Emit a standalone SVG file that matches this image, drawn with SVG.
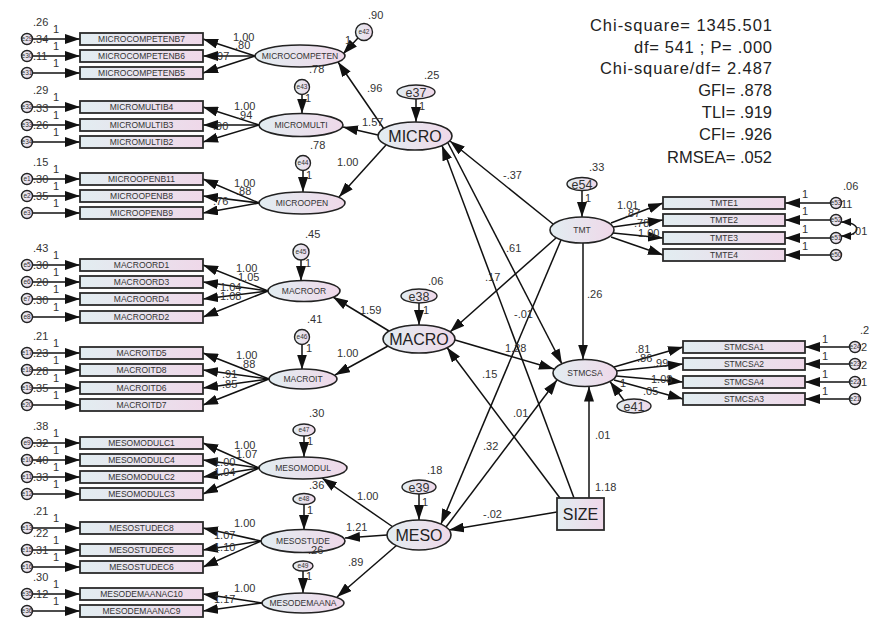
<svg xmlns="http://www.w3.org/2000/svg" width="869" height="623" viewBox="0 0 869 623">
<defs>
  <linearGradient id="g" x1="0" y1="0" x2="1" y2="0">
    <stop offset="0" stop-color="#e2edf1"/>
    <stop offset="1" stop-color="#efd8e9"/>
  </linearGradient>
  <marker id="ah" markerUnits="userSpaceOnUse" markerWidth="15" markerHeight="10" refX="15" refY="5" orient="auto">
    <path d="M0,0 L15,5 L0,10 z" fill="#111"/>
  </marker>
  <marker id="ahs" markerUnits="userSpaceOnUse" markerWidth="10" markerHeight="8" refX="10" refY="4" orient="auto-start-reverse">
    <path d="M0,0 L10,4 L0,8 z" fill="#111"/>
  </marker>
  <style>
    .box{fill:url(#g);stroke:#2b2b2b;stroke-width:1.8}
    .lat{fill:url(#g);stroke:#222;stroke-width:1.6}
    .err{fill:url(#g);stroke:#222;stroke-width:1.4}
    .a{stroke:#111;stroke-width:1.5;fill:none;marker-end:url(#ah)}
    .cov{stroke:#111;stroke-width:1.5;fill:none;marker-start:url(#ahs);marker-end:url(#ahs)}
    text{font-family:"Liberation Sans",Arial,sans-serif;fill:#333}
    .bt{font-size:8.5px;text-anchor:middle}
    .et{font-size:6.5px;text-anchor:middle}
    .e2{font-size:12.5px;text-anchor:middle}
    .big{font-size:16px;text-anchor:middle;fill:#222}
    .n{font-size:11px}
    .fit{font-size:16.5px;text-anchor:end;fill:#222}
  </style>
</defs>
<rect width="869" height="623" fill="#fff"/>

<!-- fit statistics -->
<g id="fit">
  <text class="fit" x="772" y="31" textLength="182" lengthAdjust="spacing">Chi-square= 1345.501</text>
  <text class="fit" x="772" y="53" textLength="138" lengthAdjust="spacing">df= 541 ; P= .000</text>
  <text class="fit" x="772" y="74" textLength="172" lengthAdjust="spacing">Chi-square/df= 2.487</text>
  <text class="fit" x="772" y="96">GFI= .878</text>
  <text class="fit" x="772" y="118">TLI= .919</text>
  <text class="fit" x="772" y="140">CFI= .926</text>
  <text class="fit" x="772" y="163">RMSEA= .052</text>
</g>

<!-- connectors -->
<g id="connectors">
  <!-- left error terms to indicators -->
  <line class="a" x1="32.5" y1="39" x2="80" y2="39"/>
  <line class="a" x1="32.5" y1="56" x2="80" y2="56"/>
  <line class="a" x1="32.5" y1="73" x2="80" y2="73"/>
  <line class="a" x1="32.5" y1="107" x2="80" y2="107"/>
  <line class="a" x1="32.5" y1="125" x2="80" y2="125"/>
  <line class="a" x1="32.5" y1="142" x2="80" y2="142"/>
  <line class="a" x1="32.5" y1="179" x2="80" y2="179"/>
  <line class="a" x1="32.5" y1="196" x2="80" y2="196"/>
  <line class="a" x1="32.5" y1="213" x2="80" y2="213"/>
  <line class="a" x1="32.5" y1="265" x2="80" y2="265"/>
  <line class="a" x1="32.5" y1="282" x2="80" y2="282"/>
  <line class="a" x1="32.5" y1="299" x2="80" y2="299"/>
  <line class="a" x1="32.5" y1="317" x2="80" y2="317"/>
  <line class="a" x1="32.5" y1="353" x2="80" y2="353"/>
  <line class="a" x1="32.5" y1="370" x2="80" y2="370"/>
  <line class="a" x1="32.5" y1="388" x2="80" y2="388"/>
  <line class="a" x1="32.5" y1="405" x2="80" y2="405"/>
  <line class="a" x1="32.5" y1="443" x2="80" y2="443"/>
  <line class="a" x1="32.5" y1="460" x2="80" y2="460"/>
  <line class="a" x1="32.5" y1="477" x2="80" y2="477"/>
  <line class="a" x1="32.5" y1="494" x2="80" y2="494"/>
  <line class="a" x1="32.5" y1="528" x2="80" y2="528"/>
  <line class="a" x1="32.5" y1="550" x2="80" y2="550"/>
  <line class="a" x1="32.5" y1="567" x2="80" y2="567"/>
  <line class="a" x1="32.5" y1="594" x2="80" y2="594"/>
  <line class="a" x1="32.5" y1="611" x2="80" y2="611"/>

  <!-- loadings of first-order factors -->
  <line class="a" x1="255" y1="56" x2="203" y2="39"/>
  <line class="a" x1="255" y1="56" x2="203" y2="56"/>
  <line class="a" x1="255" y1="56" x2="203" y2="73"/>
  <line class="a" x1="259" y1="125" x2="203" y2="107"/>
  <line class="a" x1="259" y1="125" x2="203" y2="125"/>
  <line class="a" x1="259" y1="125" x2="203" y2="142"/>
  <line class="a" x1="259" y1="203" x2="203" y2="179"/>
  <line class="a" x1="259" y1="203" x2="203" y2="196"/>
  <line class="a" x1="259" y1="203" x2="203" y2="213"/>
  <line class="a" x1="268" y1="291" x2="203" y2="265"/>
  <line class="a" x1="268" y1="291" x2="203" y2="282"/>
  <line class="a" x1="268" y1="291" x2="203" y2="299"/>
  <line class="a" x1="268" y1="291" x2="203" y2="317"/>
  <line class="a" x1="269" y1="379" x2="203" y2="353"/>
  <line class="a" x1="269" y1="379" x2="203" y2="370"/>
  <line class="a" x1="269" y1="379" x2="203" y2="388"/>
  <line class="a" x1="269" y1="379" x2="203" y2="405"/>
  <line class="a" x1="259" y1="468" x2="203" y2="443"/>
  <line class="a" x1="259" y1="468" x2="203" y2="460"/>
  <line class="a" x1="259" y1="468" x2="203" y2="477"/>
  <line class="a" x1="259" y1="468" x2="203" y2="494"/>
  <line class="a" x1="261" y1="541" x2="203" y2="528"/>
  <line class="a" x1="261" y1="541" x2="203" y2="550"/>
  <line class="a" x1="261" y1="541" x2="203" y2="567"/>
  <line class="a" x1="262" y1="603" x2="203" y2="594"/>
  <line class="a" x1="262" y1="603" x2="203" y2="611"/>

  <!-- disturbances of first-order factors -->
  <line class="a" x1="358" y1="38" x2="343" y2="54"/>
  <line class="a" x1="302" y1="94.5" x2="302" y2="113.5"/>
  <line class="a" x1="303" y1="170.5" x2="303" y2="192"/>
  <line class="a" x1="301" y1="260" x2="301" y2="281"/>
  <line class="a" x1="302" y1="344.5" x2="302" y2="369.5"/>
  <line class="a" x1="304" y1="436" x2="304" y2="457"/>
  <line class="a" x1="304" y1="504.5" x2="304" y2="530"/>
  <line class="a" x1="303" y1="571" x2="303" y2="593"/>

  <!-- second-order factors to first-order factors -->
  <line class="a" x1="384" y1="129" x2="338" y2="62"/>
  <line class="a" x1="378" y1="135" x2="343" y2="127"/>
  <line class="a" x1="386" y1="145" x2="339" y2="197"/>
  <line class="a" x1="389" y1="331" x2="333" y2="297"/>
  <line class="a" x1="388" y1="346" x2="335" y2="375"/>
  <line class="a" x1="393" y1="527" x2="322" y2="478"/>
  <line class="a" x1="387" y1="535" x2="345" y2="538"/>
  <line class="a" x1="397" y1="545" x2="337" y2="597"/>

  <!-- disturbances of structural factors -->
  <line class="a" x1="416" y1="99" x2="416" y2="122"/>
  <line class="a" x1="419" y1="303" x2="419" y2="325"/>
  <line class="a" x1="419" y1="494" x2="419" y2="520"/>
  <line class="a" x1="582" y1="190.5" x2="582" y2="217"/>
  <line class="a" x1="624" y1="400.5" x2="610" y2="381.5"/>

  <!-- structural paths -->
  <line class="a" x1="553" y1="224" x2="450" y2="141"/>
  <line class="a" x1="556" y1="238" x2="450" y2="332"/>
  <line class="a" x1="561" y1="240" x2="441" y2="524"/>
  <line class="a" x1="583" y1="243" x2="583" y2="359.5"/>
  <line class="a" x1="448" y1="143" x2="562" y2="364"/>
  <line class="a" x1="574" y1="498" x2="442" y2="145.5"/>
  <line class="a" x1="560" y1="498" x2="447" y2="347.5"/>
  <line class="a" x1="455" y1="340" x2="554" y2="369"/>
  <line class="a" x1="446" y1="527" x2="557" y2="380"/>
  <line class="a" x1="557" y1="512" x2="449" y2="530"/>
  <line class="a" x1="589" y1="498" x2="589" y2="386.5"/>

  <!-- TMT indicators -->
  <line class="a" x1="611" y1="223" x2="663" y2="203"/>
  <line class="a" x1="613" y1="227" x2="663" y2="220"/>
  <line class="a" x1="613" y1="233" x2="663" y2="238"/>
  <line class="a" x1="611" y1="237" x2="663" y2="255"/>
  <line class="a" x1="830.5" y1="203" x2="785" y2="203"/>
  <line class="a" x1="830.5" y1="220" x2="785" y2="220"/>
  <line class="a" x1="830.5" y1="238" x2="785" y2="238"/>
  <line class="a" x1="830.5" y1="255" x2="785" y2="255"/>
  <path class="cov" d="M841,222 C862,222 862,236 841,236"/>

  <!-- STMCSA indicators -->
  <line class="a" x1="614" y1="367" x2="683" y2="347"/>
  <line class="a" x1="616" y1="371" x2="683" y2="364"/>
  <line class="a" x1="616" y1="376" x2="683" y2="382"/>
  <line class="a" x1="614" y1="380" x2="683" y2="399"/>
  <line class="a" x1="849.5" y1="347" x2="805" y2="347"/>
  <line class="a" x1="849.5" y1="364" x2="805" y2="364"/>
  <line class="a" x1="849.5" y1="382" x2="805" y2="382"/>
  <line class="a" x1="849.5" y1="399" x2="805" y2="399"/>
</g>

<!-- path labels -->
<g id="path-labels" class="n">
  <text class="n" x="233" y="41">1.00</text>
  <text class="n" x="235" y="49">.80</text>
  <text class="n" x="214" y="60">.97</text>
  <text class="n" x="234" y="110">1.00</text>
  <text class="n" x="237" y="119">.94</text>
  <text class="n" x="213" y="130">.90</text>
  <text class="n" x="234" y="187">1.00</text>
  <text class="n" x="236" y="195">.88</text>
  <text class="n" x="213" y="205">.76</text>
  <text class="n" x="236" y="272">1.00</text>
  <text class="n" x="238" y="281">1.05</text>
  <text class="n" x="220" y="291">1.04</text>
  <text class="n" x="220" y="300">1.08</text>
  <text class="n" x="236" y="359">1.00</text>
  <text class="n" x="240" y="368">.88</text>
  <text class="n" x="222" y="378">.91</text>
  <text class="n" x="222" y="388">.85</text>
  <text class="n" x="234" y="449">1.00</text>
  <text class="n" x="236" y="458">1.07</text>
  <text class="n" x="214" y="466">1.00</text>
  <text class="n" x="214" y="476">1.04</text>
  <text class="n" x="234" y="527">1.00</text>
  <text class="n" x="214" y="539">1.07</text>
  <text class="n" x="214" y="551">1.10</text>
  <text class="n" x="234" y="592">1.00</text>
  <text class="n" x="214" y="603">1.17</text>

  <text class="n" x="367" y="92">.96</text>
  <text class="n" x="362" y="126">1.57</text>
  <text class="n" x="337" y="166">1.00</text>
  <text class="n" x="360" y="314">1.59</text>
  <text class="n" x="337" y="357">1.00</text>
  <text class="n" x="357" y="500">1.00</text>
  <text class="n" x="346" y="531">1.21</text>
  <text class="n" x="348" y="566">.89</text>

  <text class="n" x="503" y="179">-.37</text>
  <text class="n" x="506" y="252">.61</text>
  <text class="n" x="485" y="281">.17</text>
  <text class="n" x="587" y="298">.26</text>
  <text class="n" x="514" y="318">-.01</text>
  <text class="n" x="505" y="352">1.28</text>
  <text class="n" x="482" y="378">.15</text>
  <text class="n" x="513" y="417">.01</text>
  <text class="n" x="483" y="450">.32</text>
  <text class="n" x="483" y="518">-.02</text>
  <text class="n" x="595" y="439">.01</text>

  <text class="n" x="617" y="209">1.01</text>
  <text class="n" x="625" y="217">.87</text>
  <text class="n" x="634" y="227">.78</text>
  <text class="n" x="638" y="237">1.00</text>
  <text class="n" x="635" y="353">.81</text>
  <text class="n" x="637" y="362">.86</text>
  <text class="n" x="653" y="367">.99</text>
  <text class="n" x="651" y="383">1.08</text>
  <text class="n" x="643" y="395">.05</text>
  <text class="n" x="852" y="235">.01</text>
</g>

<!-- left indicators -->
<g id="MICROCOMPETENB7"><rect class="box" x="80" y="33" width="123" height="12"/><text class="bt" x="141.5" y="42">MICROCOMPETENB7</text></g>
<g id="MICROCOMPETENB6"><rect class="box" x="80" y="50" width="123" height="12"/><text class="bt" x="141.5" y="59">MICROCOMPETENB6</text></g>
<g id="MICROCOMPETENB5"><rect class="box" x="80" y="67" width="123" height="12"/><text class="bt" x="141.5" y="76">MICROCOMPETENB5</text></g>
<g id="MICROMULTIB4"><rect class="box" x="80" y="101" width="123" height="12"/><text class="bt" x="141.5" y="110">MICROMULTIB4</text></g>
<g id="MICROMULTIB3"><rect class="box" x="80" y="119" width="123" height="12"/><text class="bt" x="141.5" y="128">MICROMULTIB3</text></g>
<g id="MICROMULTIB2"><rect class="box" x="80" y="136" width="123" height="12"/><text class="bt" x="141.5" y="145">MICROMULTIB2</text></g>
<g id="MICROOPENB11"><rect class="box" x="80" y="173" width="123" height="12"/><text class="bt" x="141.5" y="182">MICROOPENB11</text></g>
<g id="MICROOPENB8"><rect class="box" x="80" y="190" width="123" height="12"/><text class="bt" x="141.5" y="199">MICROOPENB8</text></g>
<g id="MICROOPENB9"><rect class="box" x="80" y="207" width="123" height="12"/><text class="bt" x="141.5" y="216">MICROOPENB9</text></g>
<g id="MACROORD1"><rect class="box" x="80" y="259" width="123" height="12"/><text class="bt" x="141.5" y="268">MACROORD1</text></g>
<g id="MACROORD3"><rect class="box" x="80" y="276" width="123" height="12"/><text class="bt" x="141.5" y="285">MACROORD3</text></g>
<g id="MACROORD4"><rect class="box" x="80" y="293" width="123" height="12"/><text class="bt" x="141.5" y="302">MACROORD4</text></g>
<g id="MACROORD2"><rect class="box" x="80" y="311" width="123" height="12"/><text class="bt" x="141.5" y="320">MACROORD2</text></g>
<g id="MACROITD5"><rect class="box" x="80" y="347" width="123" height="12"/><text class="bt" x="141.5" y="356">MACROITD5</text></g>
<g id="MACROITD8"><rect class="box" x="80" y="364" width="123" height="12"/><text class="bt" x="141.5" y="373">MACROITD8</text></g>
<g id="MACROITD6"><rect class="box" x="80" y="382" width="123" height="12"/><text class="bt" x="141.5" y="391">MACROITD6</text></g>
<g id="MACROITD7"><rect class="box" x="80" y="399" width="123" height="12"/><text class="bt" x="141.5" y="408">MACROITD7</text></g>
<g id="MESOMODULC1"><rect class="box" x="80" y="437" width="123" height="12"/><text class="bt" x="141.5" y="446">MESOMODULC1</text></g>
<g id="MESOMODULC4"><rect class="box" x="80" y="454" width="123" height="12"/><text class="bt" x="141.5" y="463">MESOMODULC4</text></g>
<g id="MESOMODULC2"><rect class="box" x="80" y="471" width="123" height="12"/><text class="bt" x="141.5" y="480">MESOMODULC2</text></g>
<g id="MESOMODULC3"><rect class="box" x="80" y="488" width="123" height="12"/><text class="bt" x="141.5" y="497">MESOMODULC3</text></g>
<g id="MESOSTUDEC8"><rect class="box" x="80" y="522" width="123" height="12"/><text class="bt" x="141.5" y="531">MESOSTUDEC8</text></g>
<g id="MESOSTUDEC5"><rect class="box" x="80" y="544" width="123" height="12"/><text class="bt" x="141.5" y="553">MESOSTUDEC5</text></g>
<g id="MESOSTUDEC6"><rect class="box" x="80" y="561" width="123" height="12"/><text class="bt" x="141.5" y="570">MESOSTUDEC6</text></g>
<g id="MESODEMAANAC10"><rect class="box" x="80" y="588" width="123" height="12"/><text class="bt" x="141.5" y="597">MESODEMAANAC10</text></g>
<g id="MESODEMAANAC9"><rect class="box" x="80" y="605" width="123" height="12"/><text class="bt" x="141.5" y="614">MESODEMAANAC9</text></g>

<!-- left error terms: circle, name, variance, fixed weight -->
<g id="e29"><circle class="err" cx="27" cy="39" r="5.5"/><text class="et" x="27" y="41.3">e29</text><text class="n" x="33" y="26">.26</text><text class="n" x="53" y="33">1</text></g>
<g id="e30"><circle class="err" cx="27" cy="56" r="5.5"/><text class="et" x="27" y="58.3">e30</text><text class="n" x="33" y="43">.34</text><text class="n" x="53" y="50">1</text></g>
<g id="e31"><circle class="err" cx="27" cy="73" r="5.5"/><text class="et" x="27" y="75.3">e31</text><text class="n" x="33" y="60">.11</text><text class="n" x="53" y="67">1</text></g>
<g id="e32"><circle class="err" cx="27" cy="107" r="5.5"/><text class="et" x="27" y="109.3">e32</text><text class="n" x="33" y="94">.29</text><text class="n" x="53" y="101">1</text></g>
<g id="e33"><circle class="err" cx="27" cy="125" r="5.5"/><text class="et" x="27" y="127.3">e33</text><text class="n" x="33" y="112">.33</text><text class="n" x="53" y="119">1</text></g>
<g id="e34"><circle class="err" cx="27" cy="142" r="5.5"/><text class="et" x="27" y="144.3">e34</text><text class="n" x="33" y="129">.26</text><text class="n" x="53" y="136">1</text></g>
<g id="e1"><circle class="err" cx="27" cy="179" r="5.5"/><text class="et" x="27" y="181.3">e1</text><text class="n" x="33" y="166">.15</text><text class="n" x="53" y="173">1</text></g>
<g id="e2"><circle class="err" cx="27" cy="196" r="5.5"/><text class="et" x="27" y="198.3">e2</text><text class="n" x="33" y="183">.30</text><text class="n" x="53" y="190">1</text></g>
<g id="e3"><circle class="err" cx="27" cy="213" r="5.5"/><text class="et" x="27" y="215.3">e3</text><text class="n" x="33" y="200">.35</text><text class="n" x="53" y="207">1</text></g>
<g id="e5"><circle class="err" cx="27" cy="265" r="5.5"/><text class="et" x="27" y="267.3">e5</text><text class="n" x="33" y="252">.43</text><text class="n" x="53" y="259">1</text></g>
<g id="e6"><circle class="err" cx="27" cy="282" r="5.5"/><text class="et" x="27" y="284.3">e6</text><text class="n" x="33" y="269">.30</text><text class="n" x="53" y="276">1</text></g>
<g id="e7"><circle class="err" cx="27" cy="299" r="5.5"/><text class="et" x="27" y="301.3">e7</text><text class="n" x="33" y="286">.20</text><text class="n" x="53" y="293">1</text></g>
<g id="e8"><circle class="err" cx="27" cy="317" r="5.5"/><text class="et" x="27" y="319.3">e8</text><text class="n" x="33" y="304">.30</text><text class="n" x="53" y="311">1</text></g>
<g id="e17"><circle class="err" cx="27" cy="353" r="5.5"/><text class="et" x="27" y="355.3">e17</text><text class="n" x="33" y="340">.21</text><text class="n" x="53" y="347">1</text></g>
<g id="e18"><circle class="err" cx="27" cy="370" r="5.5"/><text class="et" x="27" y="372.3">e18</text><text class="n" x="33" y="357">.23</text><text class="n" x="53" y="364">1</text></g>
<g id="e19"><circle class="err" cx="27" cy="388" r="5.5"/><text class="et" x="27" y="390.3">e19</text><text class="n" x="33" y="375">.28</text><text class="n" x="53" y="382">1</text></g>
<g id="e20"><circle class="err" cx="27" cy="405" r="5.5"/><text class="et" x="27" y="407.3">e20</text><text class="n" x="33" y="392">.35</text><text class="n" x="53" y="399">1</text></g>
<g id="e9"><circle class="err" cx="27" cy="443" r="5.5"/><text class="et" x="27" y="445.3">e9</text><text class="n" x="33" y="430">.38</text><text class="n" x="53" y="437">1</text></g>
<g id="e10"><circle class="err" cx="27" cy="460" r="5.5"/><text class="et" x="27" y="462.3">e10</text><text class="n" x="33" y="447">.32</text><text class="n" x="53" y="454">1</text></g>
<g id="e11"><circle class="err" cx="27" cy="477" r="5.5"/><text class="et" x="27" y="479.3">e11</text><text class="n" x="33" y="464">.40</text><text class="n" x="53" y="471">1</text></g>
<g id="e12"><circle class="err" cx="27" cy="494" r="5.5"/><text class="et" x="27" y="496.3">e12</text><text class="n" x="33" y="481">.33</text><text class="n" x="53" y="488">1</text></g>
<g id="e13"><circle class="err" cx="27" cy="528" r="5.5"/><text class="et" x="27" y="530.3">e13</text><text class="n" x="33" y="515">.21</text><text class="n" x="53" y="522">1</text></g>
<g id="e15"><circle class="err" cx="27" cy="550" r="5.5"/><text class="et" x="27" y="552.3">e15</text><text class="n" x="33" y="537">.22</text><text class="n" x="53" y="544">1</text></g>
<g id="e16"><circle class="err" cx="27" cy="567" r="5.5"/><text class="et" x="27" y="569.3">e16</text><text class="n" x="33" y="554">.31</text><text class="n" x="53" y="561">1</text></g>
<g id="e35"><circle class="err" cx="27" cy="594" r="5.5"/><text class="et" x="27" y="596.3">e35</text><text class="n" x="33" y="581">.30</text><text class="n" x="53" y="588">1</text></g>
<g id="e36"><circle class="err" cx="27" cy="611" r="5.5"/><text class="et" x="27" y="613.3">e36</text><text class="n" x="33" y="598">.12</text><text class="n" x="53" y="605">1</text></g>

<!-- first-order factors -->
<g id="MICROCOMPETEN"><ellipse class="lat" cx="300" cy="56" rx="45" ry="11"/><text class="bt" x="300" y="59">MICROCOMPETEN</text></g>
<g id="MICROMULTI"><ellipse class="lat" cx="301" cy="125" rx="42" ry="11.5"/><text class="bt" x="301" y="128">MICROMULTI</text></g>
<g id="MICROOPEN"><ellipse class="lat" cx="302" cy="203" rx="43" ry="11"/><text class="bt" x="302" y="206">MICROOPEN</text></g>
<g id="MACROOR"><ellipse class="lat" cx="304" cy="291" rx="36" ry="10.5"/><text class="bt" x="304" y="294">MACROOR</text></g>
<g id="MACROIT"><ellipse class="lat" cx="303" cy="379" rx="34" ry="10"/><text class="bt" x="303" y="382">MACROIT</text></g>
<g id="MESOMODUL"><ellipse class="lat" cx="303" cy="468" rx="44" ry="11"/><text class="bt" x="303" y="471">MESOMODUL</text></g>
<g id="MESOSTUDE"><ellipse class="lat" cx="303" cy="541" rx="42" ry="11.5"/><text class="bt" x="303" y="544">MESOSTUDE</text></g>
<g id="MESODEMAANA"><ellipse class="lat" cx="303" cy="603" rx="41" ry="10"/><text class="bt" x="303" y="606">MESODEMAANA</text></g>

<!-- first-order disturbances -->
<g id="e42"><circle class="err" cx="364" cy="32" r="8.5"/><text class="et" x="364" y="34.3">e42</text><text class="n" x="368" y="19">.90</text><text class="n" x="345" y="44">1</text></g>
<g id="e43"><circle class="err" cx="302" cy="87" r="7.5"/><text class="et" x="302" y="89.3">e43</text><text class="n" x="309" y="73">.78</text><text class="n" x="305" y="102">1</text></g>
<g id="e44"><circle class="err" cx="303" cy="163" r="7.5"/><text class="et" x="303" y="165.3">e44</text><text class="n" x="310" y="149">.78</text><text class="n" x="306" y="179">1</text></g>
<g id="e45"><circle class="err" cx="301" cy="252" r="8"/><text class="et" x="301" y="254.3">e45</text><text class="n" x="305" y="238">.45</text><text class="n" x="305" y="267">1</text></g>
<g id="e46"><circle class="err" cx="302" cy="337" r="7.5"/><text class="et" x="302" y="339.3">e46</text><text class="n" x="307" y="323">.41</text><text class="n" x="306" y="352">1</text></g>
<g id="e47"><ellipse class="err" cx="304" cy="430" rx="11" ry="6"/><text class="et" x="304" y="432.3">e47</text><text class="n" x="309" y="417">.30</text><text class="n" x="307" y="445">1</text></g>
<g id="e48"><ellipse class="err" cx="304" cy="499" rx="11" ry="5.5"/><text class="et" x="304" y="501.3">e48</text><text class="n" x="309" y="489">.36</text><text class="n" x="307" y="514">1</text></g>
<g id="e49"><ellipse class="err" cx="303" cy="566" rx="10" ry="5"/><text class="et" x="303" y="568.3">e49</text><text class="n" x="308" y="554">.26</text><text class="n" x="306" y="580">1</text></g>

<!-- second-order factors -->
<g id="MICRO"><ellipse class="lat" cx="415" cy="136" rx="37" ry="14"/><text class="big" x="415" y="142">MICRO</text></g>
<g id="e37"><ellipse class="err" cx="416" cy="92" rx="19" ry="7"/><text class="e2" x="416" y="96.5">e37</text><text class="n" x="424" y="79">.25</text><text class="n" x="419" y="110">1</text></g>
<g id="MACRO"><ellipse class="lat" cx="419" cy="339" rx="36" ry="14"/><text class="big" x="419" y="345">MACRO</text></g>
<g id="e38"><ellipse class="err" cx="419" cy="296" rx="18" ry="7"/><text class="e2" x="419" y="300.5">e38</text><text class="n" x="428" y="285">.06</text><text class="n" x="423" y="314">1</text></g>
<g id="MESO"><ellipse class="lat" cx="419" cy="535" rx="32" ry="15"/><text class="big" x="419" y="541">MESO</text></g>
<g id="e39"><ellipse class="err" cx="419" cy="487" rx="17" ry="7"/><text class="e2" x="419" y="491.5">e39</text><text class="n" x="427" y="474">.18</text><text class="n" x="422" y="506">1</text></g>

<!-- TMT and STMCSA -->
<g id="TMT"><ellipse class="lat" cx="582" cy="230" rx="32" ry="13"/><text class="bt" x="582" y="233">TMT</text></g>
<g id="e54"><ellipse class="err" cx="582" cy="184" rx="15" ry="6.5"/><text class="e2" x="582" y="188.5">e54</text><text class="n" x="589" y="171">.33</text><text class="n" x="585" y="202">1</text></g>
<g id="STMCSA"><ellipse class="lat" cx="585" cy="373" rx="32" ry="13.5"/><text class="bt" x="585" y="376">STMCSA</text></g>
<g id="e41"><ellipse class="err" cx="634" cy="406" rx="17" ry="7"/><text class="e2" x="634" y="410.5">e41</text><text class="n" x="620" y="387">1</text></g>
<g id="SIZE"><rect class="box" x="557" y="498" width="47" height="32"/><text class="big" x="580.5" y="520">SIZE</text><text class="n" x="595" y="491">1.18</text></g>

<!-- TMT indicators -->
<g id="TMTE1"><rect class="box" x="663" y="197" width="122" height="12"/><text class="bt" x="724" y="206">TMTE1</text></g>
<g id="TMTE2"><rect class="box" x="663" y="214" width="122" height="12"/><text class="bt" x="724" y="223">TMTE2</text></g>
<g id="TMTE3"><rect class="box" x="663" y="232" width="122" height="12"/><text class="bt" x="724" y="241">TMTE3</text></g>
<g id="TMTE4"><rect class="box" x="663" y="249" width="122" height="12"/><text class="bt" x="724" y="258">TMTE4</text></g>
<g id="e53"><circle class="err" cx="836" cy="203" r="5.5"/><text class="et" x="836" y="205.3">e53</text><text class="n" x="843" y="190">.06</text><text class="n" x="802" y="198">1</text></g>
<g id="e52"><circle class="err" cx="836" cy="220" r="5.5"/><text class="et" x="836" y="222.3">e52</text><text class="n" x="838" y="208">.11</text><text class="n" x="802" y="215">1</text></g>
<g id="e51"><circle class="err" cx="836" cy="238" r="5.5"/><text class="et" x="836" y="240.3">e51</text><text class="n" x="802" y="233">1</text></g>
<g id="e50"><circle class="err" cx="836" cy="255" r="5.5"/><text class="et" x="836" y="257.3">e50</text><text class="n" x="802" y="250">1</text></g>

<!-- STMCSA indicators -->
<g id="STMCSA1"><rect class="box" x="683" y="341" width="122" height="12"/><text class="bt" x="744" y="350">STMCSA1</text></g>
<g id="STMCSA2"><rect class="box" x="683" y="358" width="122" height="12"/><text class="bt" x="744" y="367">STMCSA2</text></g>
<g id="STMCSA4"><rect class="box" x="683" y="376" width="122" height="12"/><text class="bt" x="744" y="385">STMCSA4</text></g>
<g id="STMCSA3"><rect class="box" x="683" y="393" width="122" height="12"/><text class="bt" x="744" y="402">STMCSA3</text></g>
<g id="e24"><circle class="err" cx="855" cy="347" r="5.5"/><text class="et" x="855" y="349.3">e24</text><text class="n" x="860" y="334">.2</text><text class="n" x="822" y="343">1</text></g>
<g id="e23"><circle class="err" cx="855" cy="364" r="5.5"/><text class="et" x="855" y="366.3">e23</text><text class="n" x="858" y="351">.2</text><text class="n" x="822" y="360">1</text></g>
<g id="e22"><circle class="err" cx="855" cy="382" r="5.5"/><text class="et" x="855" y="384.3">e22</text><text class="n" x="858" y="369">.2</text><text class="n" x="822" y="378">1</text></g>
<g id="e21"><circle class="err" cx="855" cy="399" r="5.5"/><text class="et" x="855" y="401.3">e21</text><text class="n" x="858" y="386">.1</text><text class="n" x="822" y="395">1</text></g>
</svg>
